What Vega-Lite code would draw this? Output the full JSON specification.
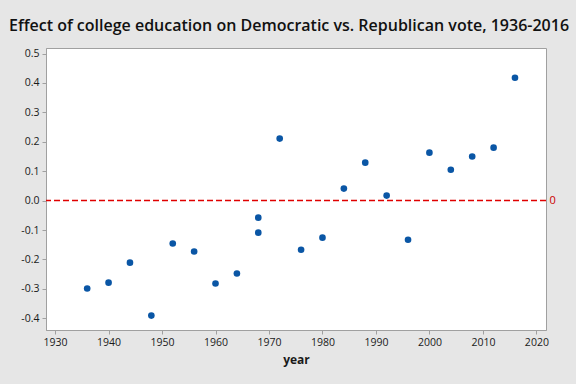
{
  "$schema": "https://vega.github.io/schema/vega-lite/v6.json",
  "width": 500,
  "height": 282,
  "autosize": "none",
  "padding": {"left": 46, "top": 48, "right": 30, "bottom": 54},
  "background": "#e6e6e6",
  "config": {
    "view": {"fill": "white", "stroke": "#a0a0a0"},
    "font": "Open Sans",
    "locale": {"number": {"decimal": ".", "thousands": ",", "grouping": [3], "currency": ["$", ""], "minus": "-"}},
    "axis": {"labelFontSize": 10.5, "labelColor": "#1a1a1a", "tickColor": "#a0a0a0", "domainColor": "#a0a0a0", "tickSize": 4, "labelPadding": 3, "grid": false}
  },
  "title": {"text": "Effect of college education on Democratic vs. Republican vote, 1936-2016", "fontSize": 16, "fontWeight": 600, "color": "#111111", "offset": 14, "dx": -7, "anchor": "middle", "font": "Open Sans"},
  "layer": [
    {
      "data": {"values": [
        {"year": 1936, "effect": -0.299},
        {"year": 1940, "effect": -0.279},
        {"year": 1944, "effect": -0.211},
        {"year": 1948, "effect": -0.391},
        {"year": 1952, "effect": -0.146},
        {"year": 1956, "effect": -0.173},
        {"year": 1960, "effect": -0.282},
        {"year": 1964, "effect": -0.248},
        {"year": 1968, "effect": -0.058},
        {"year": 1968, "effect": -0.109},
        {"year": 1972, "effect": 0.211},
        {"year": 1976, "effect": -0.167},
        {"year": 1980, "effect": -0.126},
        {"year": 1984, "effect": 0.041},
        {"year": 1988, "effect": 0.129},
        {"year": 1992, "effect": 0.017},
        {"year": 1996, "effect": -0.133},
        {"year": 2000, "effect": 0.163},
        {"year": 2004, "effect": 0.105},
        {"year": 2008, "effect": 0.150},
        {"year": 2012, "effect": 0.180},
        {"year": 2016, "effect": 0.418}
      ]},
      "mark": {"type": "point", "filled": true, "size": 44, "color": "#0a56a5", "opacity": 1},
      "encoding": {
        "x": {"field": "year", "type": "quantitative", "scale": {"domain": [1928.3, 2021.8], "nice": false, "zero": false},
              "axis": {"values": [1930, 1940, 1950, 1960, 1970, 1980, 1990, 2000, 2010, 2020], "format": "d", "title": "year", "titleFontSize": 12, "titleFontWeight": "bold", "titleColor": "#1a1a1a", "titlePadding": 7}},
        "y": {"field": "effect", "type": "quantitative", "scale": {"domain": [-0.44, 0.519], "nice": false, "zero": false},
              "axis": {"values": [-0.4, -0.3, -0.2, -0.1, 0, 0.1, 0.2, 0.3, 0.4, 0.5], "format": ".1f", "title": null}}
      }
    },
    {
      "data": {"values": [{"ref": 0}]},
      "mark": {"type": "rule", "color": "#e00000", "strokeDash": [6, 3], "strokeWidth": 1.5},
      "encoding": {
        "y": {"field": "ref", "type": "quantitative", "scale": {"domain": [-0.44, 0.519], "nice": false, "zero": false},
              "axis": {"orient": "right", "values": [0], "format": "d", "title": null, "ticks": false, "domain": false, "labelColor": "#cc0000", "labelPadding": 3, "labelFontSize": 11}}
      }
    }
  ],
  "resolve": {"scale": {"y": "independent"}}
}
